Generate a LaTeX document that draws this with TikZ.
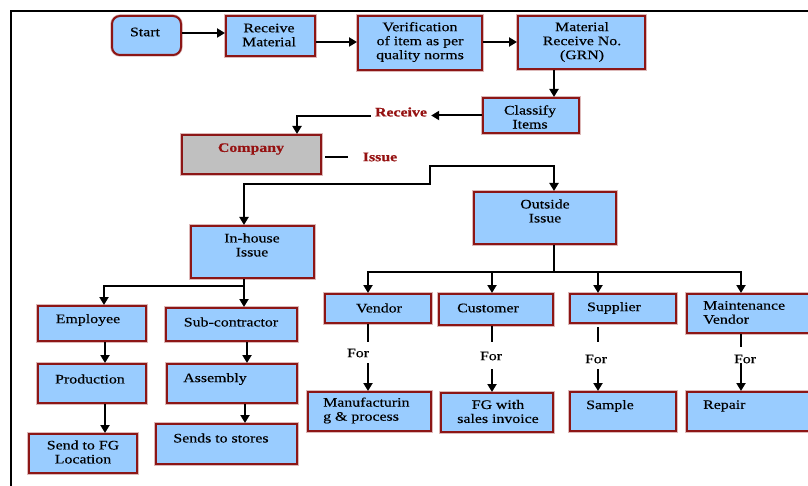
\documentclass[tikz,border=0pt]{standalone}
\usepackage{fontspec}
\setmainfont[FakeStretch=1.22,FakeBold=0.4]{Liberation Serif}
\usetikzlibrary{arrows.meta}
\definecolor{boxblue}{RGB}{153,204,255}
\definecolor{boxred}{RGB}{140,22,22}
\definecolor{labred}{RGB}{150,18,18}
\definecolor{cgray}{RGB}{192,192,192}
\begin{document}
\begin{tikzpicture}[x=1pt,y=-1pt,
  bx/.style={draw=boxred, line width=2pt, fill=boxblue, inner sep=0pt,
     preaction={draw=boxred!30, line width=3.4pt}},
  gbx/.style={bx, fill=cgray},
  txt/.style={inner sep=0pt, align=center, font=\fontsize{13}{14}\selectfont},
  ltxt/.style={txt, align=left, anchor=west},
  rtxt/.style={txt, font=\fontsize{13}{14}\selectfont\bfseries, text=labred},
  ln/.style={draw=black, line width=2pt},
  arr/.style={ln, -{Triangle[length=8pt,width=9pt]}},
  darr/.style={ln, {Triangle[length=8pt,width=9pt]}-{Triangle[length=8pt,width=9pt]}}
]
\useasboundingbox (0,0) rectangle (808,486);
\clip (0,0) rectangle (808,486);
\fill[white] (0,0) rectangle (808,486);
% frame
\draw[line width=2.5pt] (11,490) -- (11,11) -- (812,11);

% boxes
\node[bx, rounded corners=8pt, minimum width=69pt, minimum height=39pt] (bstart) at (146.5,35.5) {};
\node[bx, minimum width=89pt, minimum height=40pt] (brecv) at (270.5,36) {};
\node[bx, minimum width=124pt, minimum height=54pt] (bverif) at (420,43) {};
\node[bx, minimum width=127pt, minimum height=53pt] (bgrn) at (581.5,42.5) {};
\node[bx, minimum width=96pt, minimum height=35pt] (bclass) at (531,115.5) {};
\node[gbx, minimum width=139pt, minimum height=39pt] (bcomp) at (251.5,154.5) {};
\node[bx, minimum width=123pt, minimum height=52pt] (binh) at (252.5,252) {};
\node[bx, minimum width=142pt, minimum height=52pt] (bout) at (545,218) {};
\node[bx, minimum width=108pt, minimum height=35pt] (bemp) at (92,323.5) {};
\node[bx, minimum width=131pt, minimum height=33pt] (bsub) at (231.5,324.5) {};
\node[bx, minimum width=108pt, minimum height=39pt] (bprod) at (92,383.5) {};
\node[bx, minimum width=130pt, minimum height=39pt] (bass) at (232,383.5) {};
\node[bx, minimum width=108pt, minimum height=39pt] (bfgl) at (83,453.5) {};
\node[bx, minimum width=141pt, minimum height=40pt] (bsto) at (226.5,444) {};
\node[bx, minimum width=106pt, minimum height=29pt] (bven) at (378,308.5) {};
\node[bx, minimum width=114pt, minimum height=31pt] (bcus) at (496,309.5) {};
\node[bx, minimum width=106pt, minimum height=29pt] (bsup) at (623,308.5) {};
\node[bx, minimum width=142pt, minimum height=39pt] (bmai) at (758,313.5) {};
\node[bx, minimum width=123pt, minimum height=39pt] (bmfg) at (369.5,411.5) {};
\node[bx, minimum width=112pt, minimum height=39pt] (bfgi) at (497,412.5) {};
\node[bx, minimum width=106pt, minimum height=39pt] (bsam) at (623,411.5) {};
\node[bx, minimum width=142pt, minimum height=39pt] (brep) at (758,411.5) {};

% texts
\node[txt] (tstart) at (145,32) {Start};
\node[txt] (trecv) at (269,35) {Receive\\Material};
\node[txt] (tverif) at (420,42) {Verification\\of item as per\\quality norms};
\node[txt] (tgrn) at (582,42) {Material\\Receive No.\\(GRN)};
\node[txt] (tclass) at (530,117) {Classify\\Items};
\node[rtxt, inner sep=4pt] (trcv) at (401,112) {Receive};
\node[rtxt] (tcomp) at (251,149) {Company};
\node[rtxt] (tiss) at (380,157) {Issue};
\node[txt] (tout) at (545,211) {Outside\\Issue};
\node[txt] (tinh) at (252,245) {In-house\\Issue};
\node[txt] (temp) at (88,320) {Employee};
\node[txt] (tsub) at (231,322) {Sub-contractor};
\node[txt] (tprod) at (90,379) {Production};
\node[txt] (tass) at (215,379) {Assembly};
\node[txt] (tsto) at (221,438) {Sends to stores};
\node[txt] (tfgl) at (83,452) {Send to FG\\Location};
\node[txt] (tven) at (379,308) {Vendor};
\node[txt] (tcus) at (488,308) {Customer};
\node[txt] (tsup) at (614,308) {Supplier};
\node[ltxt] (tmai) at (703,312.5) {Maintenance\\Vendor};
\node[ltxt] (tmfg) at (323,410.5) {Manufacturin\\g \& process};
\node[txt] (tfgi) at (498,411.5) {FG with\\sales invoice};
\node[ltxt] (tsam) at (586,406) {Sample};
\node[ltxt] (trep) at (703,406) {Repair};
\node[txt] (for1) at (358,353) {For};
\node[txt] (for2) at (491,356) {For};
\node[txt] (for3) at (596,359) {For};
\node[txt] (for4) at (745,359) {For};

% top chain
\draw[arr] (bstart.east |- 0,33) -- (brecv.west |- 0,33);
\draw[arr] (brecv.east |- 0,42) -- (bverif.west |- 0,42);
\draw[arr] (bverif.east |- 0,42) -- (bgrn.west |- 0,42);
\draw[arr] (bgrn.south -| 554,0) -- (bclass.north -| 554,0);
\draw[arr] (bclass.west) -- (trcv.east |- bclass.west);
\draw[arr] (trcv.west |- 0,116) -| (bcomp.north -| 297,0);
\draw[ln] ([xshift=3pt]bcomp.east |- 0,157) -- ([xshift=-15pt]tiss.west);

% issue split
\coordinate (sp1) at (430,184);
\coordinate (sp2) at (554,166);
\draw[darr] (binh.north -| 244,0) |- (sp1) |- (sp2) -- (bout.north -| 554,0);

% outside branches
\coordinate (ob) at (554,272);
\draw[ln] (bout.south -| 554,0) -- (ob);
\draw[arr] (ob) -| (bven.north -| 368,0);
\draw[arr] (ob) -| (bcus.north -| 492,0);
\draw[arr] (ob) -| (bsup.north -| 598,0);
\draw[arr] (ob) -| (bmai.north -| 741,0);

% For links
\coordinate (f1a) at (368,342); \coordinate (f1b) at (368,363);
\coordinate (f2a) at (492,342); \coordinate (f2b) at (492,369);
\coordinate (f3a) at (598,342); \coordinate (f3b) at (598,369);
\coordinate (f4a) at (741,347); \coordinate (f4b) at (741,363);
\draw[ln] (bven.south -| f1a) -- (f1a);
\draw[arr] (f1b) -- (bmfg.north -| f1b);
\draw[ln] (bcus.south -| f2a) -- (f2a);
\draw[arr] (f2b) -- (bfgi.north -| f2b);
\draw[ln] ([yshift=-3pt]bsup.south -| f3a) -- (f3a);
\draw[arr] (f3b) -- (bsam.north -| f3b);
\draw[ln] (bmai.south -| f4a) -- (f4a);
\draw[arr] (f4b) -- (brep.north -| f4b);

% in-house branches
\coordinate (ib) at (244,286);
\draw[arr] (binh.south -| ib) -- (bsub.north -| ib);
\draw[arr] (ib) -| (bemp.north -| 104,0);
\draw[arr] (bemp.south -| 105,0) -- (bprod.north -| 105,0);
\draw[arr] (bprod.south -| 105,0) -- (bfgl.north -| 105,0);
\draw[arr] (bsub.south -| 247,0) -- (bass.north -| 247,0);
\draw[arr] (bass.south -| 245,0) -- (bsto.north -| 245,0);
\end{tikzpicture}
\end{document}
